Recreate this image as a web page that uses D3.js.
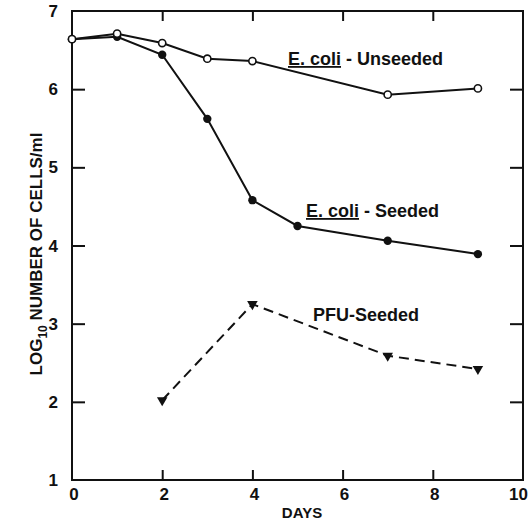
<!DOCTYPE html>
<html><head><meta charset="utf-8">
<script src="https://cdn.jsdelivr.net/npm/d3@7"></script>
<style>body{margin:0;background:#fff}svg{display:block}text{font-family:"Liberation Sans",Arial,sans-serif;fill:#111}</style>
</head><body><svg id="c" width="529" height="522"></svg>
<script>
const daysUnseeded = [0, 1, 2, 3, 4, 7, 9];
const ecoliUnseeded = [6.64, 6.71, 6.59, 6.39, 6.36, 5.93, 6.01];
const daysSeeded = [0, 1, 2, 3, 4, 5, 7, 9];
const ecoliSeeded = [6.64, 6.67, 6.44, 5.62, 4.58, 4.25, 4.06, 3.89];
const daysPFU = [2, 4, 7, 9];
const pfuSeeded = [2.02, 3.25, 2.59, 2.42];
const xTicks = [0, 2, 4, 6, 8, 10];
const yTicks = [1, 2, 3, 4, 5, 6, 7];

const svg = d3.select("#c");
const L = 72, R = 523, T = 11, B = 480;
const x = d3.scaleLinear().domain([0, 10]).range([L, R]);
const y = d3.scaleLinear().domain([1, 7]).range([B, T]);
const ink = "#111";

// frame
svg.append("rect").attr("x", L).attr("y", T).attr("width", R - L).attr("height", B - T)
  .attr("fill", "none").attr("stroke", ink).attr("stroke-width", 2);

// axes (inward ticks)
const innerX = xTicks.filter(d => d > 0 && d < 10);
const innerY = yTicks.filter(d => d > 1 && d < 7);
const gB = svg.append("g").attr("transform", `translate(0,${B})`)
  .call(d3.axisTop(x).tickValues(innerX).tickSize(10).tickFormat(""));
const gT = svg.append("g").attr("transform", `translate(0,${T})`)
  .call(d3.axisBottom(x).tickValues(innerX).tickSize(10).tickFormat(""));
const gL = svg.append("g").attr("transform", `translate(${L},0)`)
  .call(d3.axisRight(y).tickValues(innerY).tickSize(13).tickFormat(""));
const gR = svg.append("g").attr("transform", `translate(${R},0)`)
  .call(d3.axisLeft(y).tickValues(innerY).tickSize(13).tickFormat(""));
[gB, gT, gL, gR].forEach(g => {
  g.select(".domain").remove();
  g.selectAll(".tick line").attr("stroke", ink).attr("stroke-width", 2);
});

// tick labels
svg.append("g").selectAll("text").data(xTicks).join("text")
  .attr("x", d => d === 10 ? 528 : x(d) + 2).attr("y", 500)
  .attr("text-anchor", d => d === 10 ? "end" : "middle")
  .attr("font-size", 17).attr("font-weight", "bold")
  .text(d => d);
svg.append("g").selectAll("text").data(yTicks).join("text")
  .attr("x", 58).attr("y", d => y(d) + 6)
  .attr("text-anchor", "end").attr("font-size", 17).attr("font-weight", "bold")
  .text(d => d);

// axis titles
svg.append("text").attr("x", 302).attr("y", 518).attr("text-anchor", "middle")
  .attr("font-size", 15).attr("font-weight", "bold").text("DAYS");
const yt = svg.append("text").attr("transform", "translate(42,254) rotate(-90)")
  .attr("text-anchor", "middle").attr("font-size", 17).attr("font-weight", "bold");
yt.append("tspan").text("LOG");
yt.append("tspan").attr("font-size", 12).attr("dy", 5).text("10");
yt.append("tspan").attr("dy", -5).text(" NUMBER OF CELLS/ml");

// lines
const line = d3.line().x(d => x(d[0])).y(d => y(d[1]));
const sU = daysUnseeded.map((d, i) => [d, ecoliUnseeded[i]]);
const sS = daysSeeded.map((d, i) => [d, ecoliSeeded[i]]);
const sP = daysPFU.map((d, i) => [d, pfuSeeded[i]]);
svg.append("path").attr("d", line(sS)).attr("fill", "none").attr("stroke", ink).attr("stroke-width", 2);
svg.append("path").attr("d", line(sU)).attr("fill", "none").attr("stroke", ink).attr("stroke-width", 2);
svg.append("path").attr("d", line(sP)).attr("fill", "none").attr("stroke", ink).attr("stroke-width", 2)
  .attr("stroke-dasharray", "10,6");

// markers
svg.append("g").selectAll("circle").data(sS).join("circle")
  .attr("cx", d => x(d[0])).attr("cy", d => y(d[1])).attr("r", 4.2).attr("fill", ink);
svg.append("g").selectAll("circle").data(sU).join("circle")
  .attr("cx", d => x(d[0])).attr("cy", d => y(d[1])).attr("r", 3.6)
  .attr("fill", "#fff").attr("stroke", ink).attr("stroke-width", 1.6);
const tri = d3.symbol().type(d3.symbolTriangle).size(48);
svg.append("g").selectAll("path").data(sP).join("path")
  .attr("d", tri).attr("fill", ink)
  .attr("transform", d => `translate(${x(d[0])},${y(d[1])}) rotate(180)`);

// series labels
function label(xp, yp, rest) {
  const t = svg.append("text").attr("x", xp).attr("y", yp).attr("font-size", 18).attr("font-weight", "bold");
  t.append("tspan").attr("text-decoration", "underline").text("E. coli");
  t.append("tspan").text(rest);
}
label(288, 65, " - Unseeded");
label(306, 217, " - Seeded");
svg.append("text").attr("x", 313).attr("y", 321).attr("font-size", 18).attr("font-weight", "bold").text("PFU-Seeded");
</script></body></html>
